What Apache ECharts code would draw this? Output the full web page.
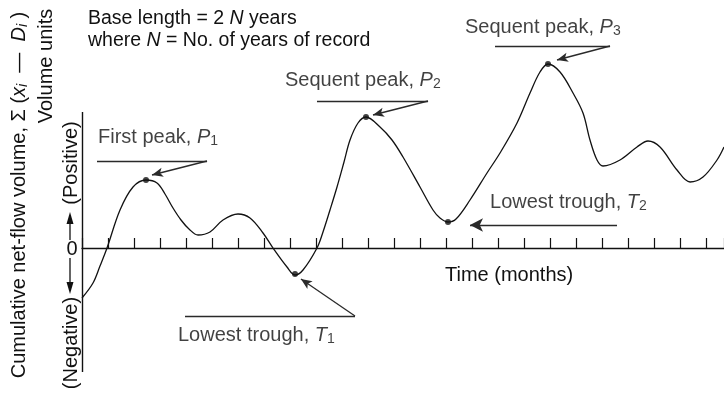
<!DOCTYPE html>
<html><head><meta charset="utf-8">
<script src="https://cdn.jsdelivr.net/npm/echarts@6/dist/echarts.min.js"></script>
<style>html,body{margin:0;padding:0;background:#fff}#c{width:724px;height:393px}</style>
</head><body><div id="c"></div>
<script>
// Curve (x in tick units of time, y in volume units; 0 = base line)
const curveX = [0, 0.423, 0.692, 0.962, 1.462, 1.962, 2.462, 2.885, 3.192, 3.5, 3.808, 4.115, 4.462, 4.923, 5.423, 6.0, 6.462, 6.962, 7.346, 7.885, 8.192, 8.5, 9.038, 9.269, 9.538, 9.808, 10.077, 10.308, 10.615, 10.923, 11.462, 11.923, 12.346, 13.0, 13.5, 13.769, 14.077, 14.385, 14.923, 15.577, 16.077, 16.731, 17.231, 17.615, 17.923, 18.385, 18.885, 19.269, 19.538, 19.808, 20.038, 20.692, 21.346, 21.769, 22.231, 22.885, 23.385, 23.885, 24.423, 24.692];
const curveY = [-5.0, -3.5, -1.8, 0, 3.8, 6.1, 6.8, 6.5, 5.4, 4.0, 2.8, 1.9, 1.3, 1.6, 2.8, 3.4, 3.0, 1.5, 0, -1.9, -2.7, -2.2, 0, 1.6, 3.8, 6.1, 8.6, 10.8, 12.5, 13.1, 12.1, 10.8, 9.1, 6.1, 3.8, 3.0, 2.6, 2.9, 4.8, 7.5, 9.5, 12.5, 15.5, 17.6, 18.4, 17.6, 15.5, 13.5, 10.8, 8.8, 8.2, 8.8, 10.1, 10.7, 10.1, 7.8, 6.6, 7.1, 8.8, 10.1];

// Marked peaks / troughs
const pointNames = ['P1', 'T1', 'P2', 'T2', 'P3'];
const pointX = [2.462, 8.192, 10.923, 14.077, 17.923];
const pointY = [6.8, -2.6, 13.1, 2.6, 18.4];

// Annotation texts and their anchors (data units)
const annoTexts = ['First peak, {i|P}{s|1}', 'Lowest trough, {i|T}{s|1}', 'Sequent peak, {i|P}{s|2}', 'Lowest trough, {i|T}{s|2}', 'Sequent peak, {i|P}{s|3}'];
const annoTextX = [0.615, 3.692, 7.808, 15.692, 14.731];
const annoTextY = [11.1, -8.7, 16.8, 4.6, 22.1];
// Leader (horizontal) lines
const leaderX1 = [0.577, 3.962, 9.038, 15.885];
const leaderX2 = [4.808, 10.5, 13.308, 20.308];
const leaderY = [8.7, -6.8, 14.7, 20.2];
// Arrows: from -> to
const arrowFromX = [4.808, 10.5, 13.308, 20.577, 20.308];
const arrowFromY = [8.7, -6.8, 14.7, 2.3, 20.2];
const arrowToX = [2.692, 8.42, 11.192, 14.923, 18.269];
const arrowToY = [7.3, -3.1, 13.3, 2.3, 18.8];

// Axis extents
const xMin = 0, xMax = 24.692, yMin = -12.4, yMax = 24.8, yAxisTop = 13.6;

const FONT = 'Liberation Sans, Arial, Helvetica, sans-serif';
const INK = '#111';
function rich(fs) {
  return {
    i: {fontStyle: 'italic', fontSize: fs, fontFamily: FONT, color: INK},
    s: {fontSize: 14, fontFamily: FONT, color: INK, padding: [8, 0, 0, 0]},
    si: {fontSize: 14, fontStyle: 'italic', fontFamily: FONT, color: INK, padding: [8, 0, 0, 0]}
  };
}

const chart = echarts.init(document.getElementById('c'), null, {renderer: 'canvas'});

const leaderLines = leaderX1.map((x, k) => [
  {coord: [x, leaderY[k]], symbol: 'none'},
  {coord: [leaderX2[k], leaderY[k]], symbol: 'none'}
]);
const arrowLines = arrowFromX.map((x, k) => [
  {coord: [x, arrowFromY[k]], symbol: 'none'},
  {coord: [arrowToX[k], arrowToY[k]], symbol: 'arrow', symbolSize: k === 3 ? [10, 13] : [7, 11]}
]);
const vertAxis = [[{coord: [xMin, yMin], symbol: 'none'}, {coord: [xMin, yAxisTop], symbol: 'none'}]];

function gText(x, y, text, rot, align, fs) {
  fs = fs || 20;
  return {
    type: 'text', x: x, y: y, rotation: rot || 0, silent: true,
    style: {
      text: text, fill: INK, fontSize: fs, fontFamily: FONT,
      align: align || 'center', verticalAlign: 'middle',
      textAlign: align || 'center', textVerticalAlign: 'middle',
      rich: rich(fs)
    }
  };
}

const option = {
  animation: false,
  backgroundColor: '#fff',
  grid: {left: 82, right: 0, top: 0, bottom: 21, containLabel: false},
  xAxis: {
    type: 'value', min: xMin, max: xMax, interval: 1,
    axisLine: {show: true, onZero: true, lineStyle: {color: INK, width: 1.4}},
    axisTick: {show: true, inside: true, length: 10, lineStyle: {color: INK, width: 1.2}},
    axisLabel: {show: false}, splitLine: {show: false}
  },
  yAxis: {
    type: 'value', min: yMin, max: yMax,
    axisLine: {show: false}, axisTick: {show: false}, axisLabel: {show: false}, splitLine: {show: false}
  },
  series: [
    {
      type: 'line', name: 'Cumulative net-flow',
      data: curveX.map((x, k) => [x, curveY[k]]),
      smooth: 0.35, showSymbol: false, symbol: 'none',
      lineStyle: {color: INK, width: 1.3}, clip: false, silent: true
    },
    {
      type: 'scatter', name: 'Extremes',
      data: pointX.map((x, k) => ({name: pointNames[k], value: [x, pointY[k]]})),
      symbol: 'circle', symbolSize: 6, itemStyle: {color: INK}, silent: true, clip: false,
      markLine: {
        silent: true, animation: false, symbol: ['none', 'none'],
        label: {show: false},
        lineStyle: {color: '#2a2a2a', width: 1.3, type: 'solid'},
        emphasis: {disabled: true},
        data: leaderLines.concat(arrowLines)
      }
    },
    {
      type: 'line', name: 'Axis',
      data: [], markLine: {
        silent: true, animation: false, symbol: ['none', 'none'], label: {show: false},
        lineStyle: {color: INK, width: 1.4, type: 'solid'}, data: vertAxis
      }
    },
    {
      type: 'scatter', name: 'Annotations',
      data: annoTextX.map((x, k) => ({value: [x, annoTextY[k]]})),
      symbol: 'circle', symbolSize: 0.01, itemStyle: {color: 'rgba(0,0,0,0)'}, silent: true, clip: false,
      label: {
        show: true, position: 'right', distance: 0,
        color: INK, fontSize: 20, fontFamily: FONT,
        formatter: p => annoTexts[p.dataIndex],
        rich: rich(20)
      }
    }
  ],
  graphic: [
    gText(19, 195, 'Cumulative net-flow volume, Σ ({i|x}{si|i}  —  {i|D}{si|i} )', Math.PI / 2),
    gText(46, 66, 'Volume units', Math.PI / 2),
    gText(71, 163, '(Positive)', Math.PI / 2),
    gText(71, 343, '(Negative)', Math.PI / 2),
    gText(72, 249, '0', 0),
    {type: 'line', silent: true, shape: {x1: 70, y1: 240, x2: 70, y2: 220}, style: {stroke: INK, lineWidth: 1.3}},
    {type: 'polygon', silent: true, shape: {points: [[70, 212], [66.5, 224], [73.5, 224]]}, style: {fill: INK}},
    {type: 'line', silent: true, shape: {x1: 70, y1: 258, x2: 70, y2: 284}, style: {stroke: INK, lineWidth: 1.3}},
    {type: 'polygon', silent: true, shape: {points: [[70, 294], [66.5, 282], [73.5, 282]]}, style: {fill: INK}},
    gText(88, 19, 'Base length = 2 {i|N} years', 0, 'left', 19.5),
    gText(88, 41, 'where {i|N} = No. of years of record', 0, 'left', 19.5),
    gText(445, 275, 'Time (months)', 0, 'left')
  ]
};
chart.setOption(option);
</script></body></html>
